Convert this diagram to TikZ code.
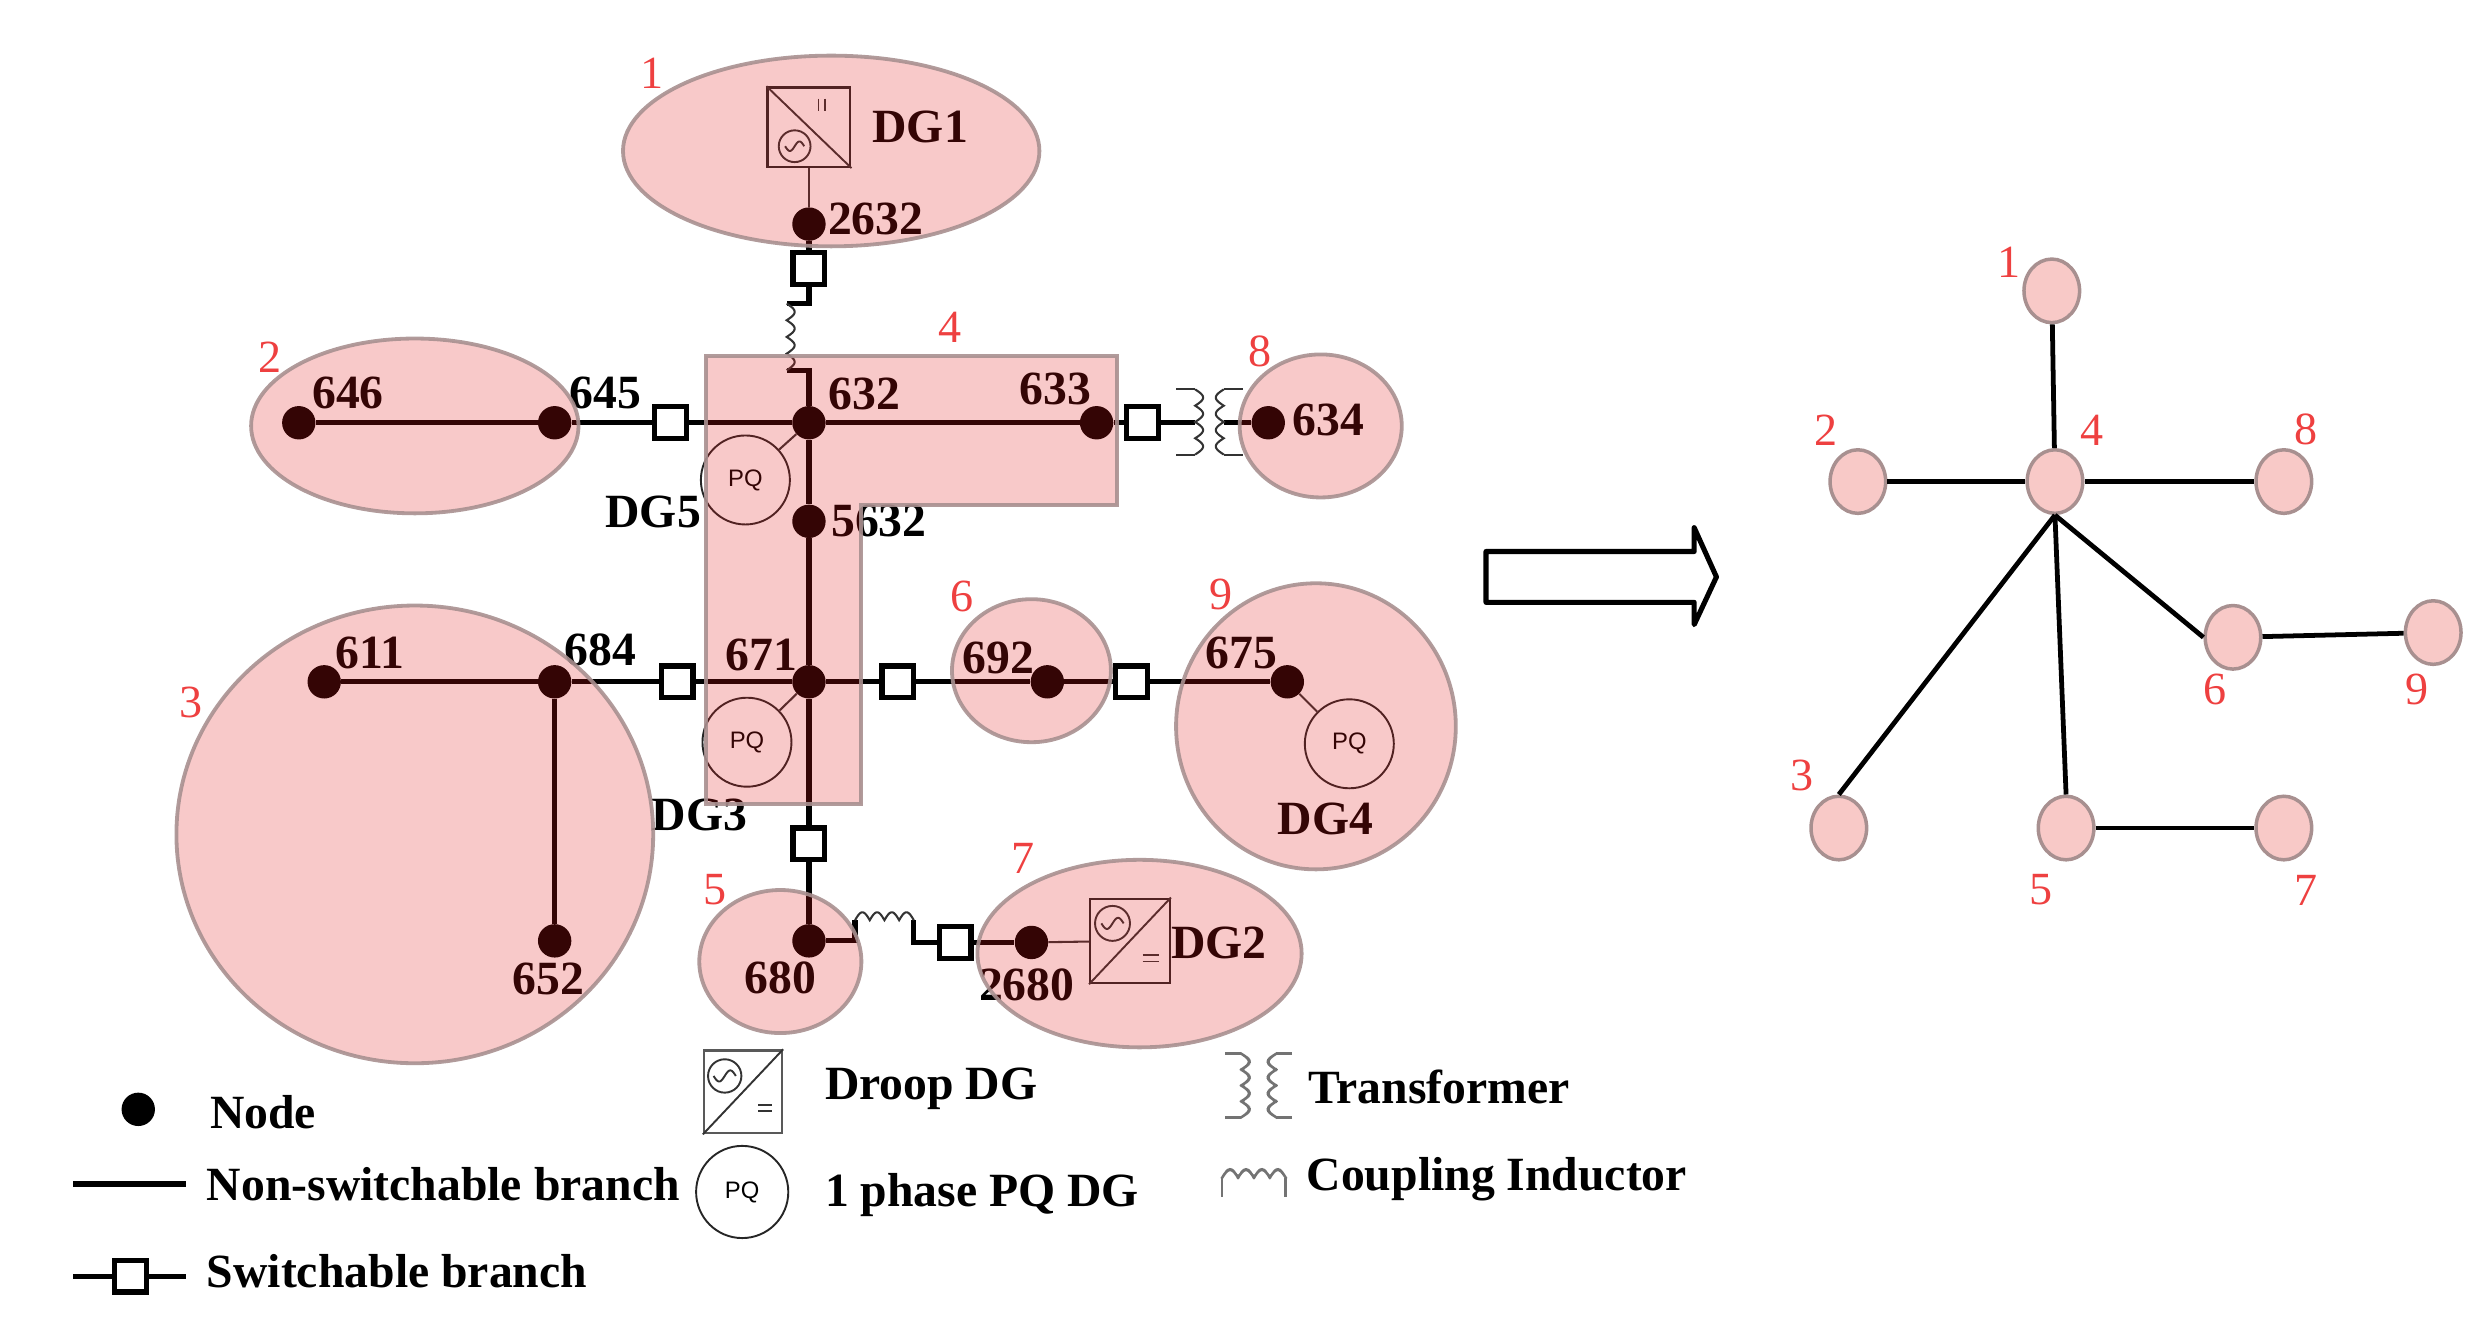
\documentclass[tikz,border=0pt]{standalone}
\usepackage{fontspec}
\setmainfont{Liberation Serif}
\newfontfamily\pqfont{Liberation Sans}
\usetikzlibrary{shapes.geometric}
\definecolor{regionborder}{HTML}{A89090}
\definecolor{regionfill}{HTML}{E21616}
\definecolor{pinkplain}{HTML}{F8C9C7}
\definecolor{numred}{HTML}{EE4040}
% vertical coil: x, y0, y1, bulge, bumps
\newcommand{\vcoil}[6][thin line]{\draw[#1] plot[samples=61,domain=0:1] ({#2+#5*abs(sin(#6*180*\x))},{#3+(#4-#3)*\x});}
% horizontal coil: y, x0, x1, bulge, bumps
\newcommand{\hcoil}[6][thin line]{\draw[#1] plot[samples=61,domain=0:1] ({#3+(#4-#3)*\x},{#2+#5*abs(sin(#6*180*\x))});}
\newcommand{\sinewave}[3]{\draw[sym line] plot[samples=31,domain=-1:1] ({#1+#3*\x},{#2-0.5*#3*sin(180*\x)});}
\tikzset{
  branch/.style={line width=3.3pt,black},
  thin line/.style={line width=1.3pt,black!80},
  leg coil/.style={line width=1.6pt,black!55,rounded corners=2pt},
  sym line/.style={line width=1.2pt,black!80},
  bus/.style={circle,fill=black,minimum size=21pt,inner sep=0pt},
  sw/.style={rectangle,draw=black,line width=3.3pt,fill=white,minimum width=20pt,minimum height=20pt,inner sep=0pt},
  pq/.style={circle,draw=black!85,line width=1.2pt,minimum size=56pt,inner sep=0pt,font=\pqfont\fontsize{15}{17}\selectfont},
  dgbox/.style={rectangle,draw=black!85,line width=1.5pt,inner sep=0pt},
  lbl/.style={font=\bfseries\fontsize{30}{32}\selectfont,inner sep=0pt},
  leg/.style={font=\bfseries\fontsize{30}{32}\selectfont,inner sep=0pt,anchor=west},
  num/.style={font=\fontsize{29}{31}\selectfont,text=numred,inner sep=0pt},
  region/.style={fill=regionfill,fill opacity=.23,draw=regionborder,draw opacity=.9,line width=2.4pt},
  gnode/.style={ellipse,fill=pinkplain,draw=regionborder,line width=2.2pt,minimum width=35pt,minimum height=40pt,inner sep=0pt},
  gedge/.style={line width=3pt,black},
}
\begin{document}
\begin{tikzpicture}[x=1pt,y=-1pt]
\useasboundingbox (0,0) rectangle (1568,844);
% ---------- buses
\node[bus] (n2632) at (509,141) {};
\node[bus] (n646) at (188,266) {};
\node[bus] (n645) at (349,266) {};
\node[bus] (n632) at (509,266) {};
\node[bus] (n633) at (690,266) {};
\node[bus] (n634) at (798,266) {};
\node[bus] (n5632) at (509,328) {};
\node[bus] (n671) at (509,429) {};
\node[bus] (n611) at (204,429) {};
\node[bus] (n684) at (349,429) {};
\node[bus] (n652) at (349,592) {};
\node[bus] (n692) at (659,429) {};
\node[bus] (n675) at (810,429) {};
\node[bus] (n680) at (509,592) {};
\node[bus] (n2680) at (649,593) {};
% ---------- switches
\node[sw] (s1) at (509,169) {};
\node[sw] (s2) at (422,266) {};
\node[sw] (s3) at (719,266) {};
\node[sw] (s4) at (426,429) {};
\node[sw] (s5) at (565,429) {};
\node[sw] (s6) at (712,429) {};
\node[sw] (s7) at (509,531) {};
\node[sw] (s8) at (601,593) {};
% ---------- coil terminals
\coordinate (ci1a) at (495,191);
\coordinate (ci1b) at (495,233);
\coordinate (ci2a) at (538,579);
\coordinate (ci2b) at (575,579);
\coordinate (tl) at (752,266);
\coordinate (tr) at (770,266);
% ---------- DG symbols
\node[dgbox,minimum width=52pt,minimum height=50pt] (dg1) at (509,80) {};
\node[dgbox,minimum width=50pt,minimum height=53pt] (dg2) at (711,592) {};
\node[pq] (pq5) at (469,302) {PQ};
\node[pq] (pq3) at (470,467) {PQ};
\node[pq] (pq4) at (849,468) {PQ};
% ---------- branches
\draw[branch] (n2632) -- (s1);
\draw[branch] (s1) |- (ci1a);
\draw[branch] (ci1b) -| (n632);
\vcoil{495}{191}{233}{5}{4}
\draw[branch] (n646) -- (n645) -- (s2) -- (n632) -- (n633) -- (s3) -- (tl);
\draw[branch] (tr) -- (n634);
\draw[branch] (n632) -- (n5632) -- (n671) -- (s7) -- (n680);
\draw[branch] (n611) -- (n684) -- (s4) -- (n671) -- (s5) -- (n692) -- (s6) -- (n675);
\draw[branch] (n684) -- (n652);
\draw[branch] (n680) -| (ci2a);
\draw[branch] (ci2b) |- (s8);
\draw[branch] (s8) -- (n2680);
\draw[thin line] (dg1) -- (n2632);
\draw[thin line] (n2680) -- (dg2);
\draw[thin line] (pq5) -- (n632);
\draw[thin line] (pq3) -- (n671);
\draw[thin line] (pq4) -- (n675);
\hcoil{579}{538}{575}{-5}{4}
% transformer
\draw[thin line] (740,245) -- (752,245);
\draw[thin line] (740,286) -- (752,286);
\vcoil{752}{245}{286}{5}{4}
\draw[thin line] (782,245) -- (770,245);
\draw[thin line] (782,286) -- (770,286);
\vcoil{770}{245}{286}{-5}{4}
% DG1 symbol
\draw[sym line] (dg1.north west) -- (dg1.south east);
\draw[sym line] (500,92) circle[radius=10];
\sinewave{500}{92}{6}
\draw[sym line] (515,62) -- (515,70) (519,62) -- (519,70);
% DG2 symbol
\draw[sym line] (dg2.south west) -- (dg2.north east);
\draw[sym line] (700,581) circle[radius=11];
\sinewave{700}{581}{7}
\draw[sym line] (719,601) -- (729,601) (719,605) -- (729,605);
% ---------- labels
\node[lbl] (t2632) at (551,138) {2632};
\node[lbl] (tDG1) at (579,80) {DG1};
\node[lbl] (t646) at (219,247) {646};
\node[lbl] (t645) at (381,247) {645};
\node[lbl] (t632) at (544,248) {632};
\node[lbl] (t633) at (664,245) {633};
\node[lbl] (t634) at (836,264) {634};
\node[lbl] (tDG5) at (411,322) {DG5};
\node[lbl] (t5632) at (553,328) {5632};
\node[lbl] (t692) at (628,414) {692};
\node[lbl] (t675) at (781,411) {675};
\node[lbl] (t671) at (479,412) {671};
\node[lbl] (t611) at (233,411) {611};
\node[lbl] (t684) at (378,409) {684};
\node[lbl] (t652) at (345,616) {652};
\node[lbl] (tDG3) at (440,513) {DG3};
\node[lbl] (tDG4) at (834,515) {DG4};
\node[lbl] (t680) at (491,615) {680};
\node[lbl] (t2680) at (646,620) {2680};
\node[lbl] (tDG2) at (767,593) {DG2};
% ---------- regions, laid over the circuit like tinted film
\draw[region] (523,95) ellipse[x radius=131,y radius=60];
\draw[region] (261,268) ellipse[x radius=103,y radius=55];
\draw[region] (261,525) ellipse[x radius=150,y radius=144];
\draw[region] (444,224) -- (703,224) -- (703,318) -- (542,318) -- (542,506) -- (444,506) -- cycle;
\draw[region] (491,605) ellipse[x radius=51,y radius=45];
\draw[region] (649,422) ellipse[x radius=50,y radius=45];
\draw[region] (717,600) ellipse[x radius=102,y radius=59];
\draw[region] (831,268) ellipse[x radius=51,y radius=45];
\draw[region] (828,457) ellipse[x radius=88,y radius=90];
% ---------- region numbers
\node[num] (r1) at (410,46) {1};
\node[num] (r2) at (170,225) {2};
\node[num] (r3) at (120,442) {3};
\node[num] (r4) at (598,206) {4};
\node[num] (r5) at (450,560) {5};
\node[num] (r6) at (605,375) {6};
\node[num] (r7) at (644,540) {7};
\node[num] (r8) at (793,221) {8};
\node[num] (r9) at (768,374) {9};
% ---------- legend
\node[bus] (lnode) at (87,698) {};
\node[leg] (tnode) at (132,700) {Node};
\coordinate (la) at (46,745);
\coordinate (lb) at (117,745);
\draw[branch] (la) -- (lb);
\node[leg] (tnon) at (130,745) {Non-switchable branch};
\coordinate (lc) at (46,803);
\coordinate (ld) at (117,803);
\node[sw] (ls) at (82,803) {};
\draw[branch] (lc) -- (ls) -- (ld);
\node[leg] (tsw) at (130,800) {Switchable branch};
\node[dgbox,draw=black!65,minimum width=49pt,minimum height=52pt] (ldg) at (467.5,687) {};
\draw[sym line] (ldg.south west) -- (ldg.north east);
\draw[sym line] (456,677) circle[radius=10.5];
\sinewave{456}{677}{7}
\draw[sym line] (477,695) -- (486,695) (477,699) -- (486,699);
\node[leg] (tdroop) at (519,685) {Droop DG};
\node[pq,minimum size=58pt] (lpq) at (467,750) {PQ};
\node[leg] (tpq) at (519,752) {1 phase PQ DG};
\draw[leg coil] (771,663) -- (781,663);
\draw[leg coil] (771,703) -- (781,703);
\vcoil[leg coil]{781}{663}{703}{5}{4}
\draw[leg coil] (813,663) -- (803,663);
\draw[leg coil] (813,703) -- (803,703);
\vcoil[leg coil]{803}{663}{703}{-5}{4}
\node[leg] (ttr) at (823,684) {Transformer};
\draw[leg coil] (769,753) -- (769,741);
\draw[leg coil] (809,753) -- (809,741);
\hcoil[leg coil]{741}{769}{809}{-5}{4}
\node[leg] (tci) at (822,742) {Coupling Inductor};
% ---------- arrow
\draw[line width=3.2pt,black,fill=white,line join=round] (935,347) -- (1066,347) -- (1066,332) -- (1080,363) -- (1066,393) -- (1066,379) -- (935,379) -- cycle;
% ---------- reduced graph
\node[gnode] (g1) at (1291,183) {};
\node[gnode] (g2) at (1169,303) {};
\node[gnode] (g4) at (1293,303) {};
\node[gnode] (g8) at (1437,303) {};
\node[gnode] (g6) at (1405,401) {};
\node[gnode] (g9) at (1531,398) {};
\node[gnode] (g3) at (1157,521) {};
\node[gnode] (g5) at (1300,521) {};
\node[gnode] (g7) at (1437,521) {};
\draw[gedge] (g1) -- (g4);
\draw[gedge] (g2) -- (g4);
\draw[gedge] (g4) -- (g8);
\draw[gedge] (g4.south) -- (g6.west);
\draw[gedge] (g6) -- (g9);
\draw[gedge] (g4.south) -- (g3.north);
\draw[gedge] (g4.south) -- (g5.north);
\draw[gedge] (g5) -- (g7);
\node[num] (q1) at (1264,165) {1};
\node[num] (q2) at (1149,271) {2};
\node[num] (q4) at (1316,271) {4};
\node[num] (q8) at (1451,270) {8};
\node[num] (q6) at (1394,434) {6};
\node[num] (q9) at (1521,434) {9};
\node[num] (q3) at (1134,488) {3};
\node[num] (q5) at (1284,560) {5};
\node[num] (q7) at (1451,560) {7};
\end{tikzpicture}
\end{document}
